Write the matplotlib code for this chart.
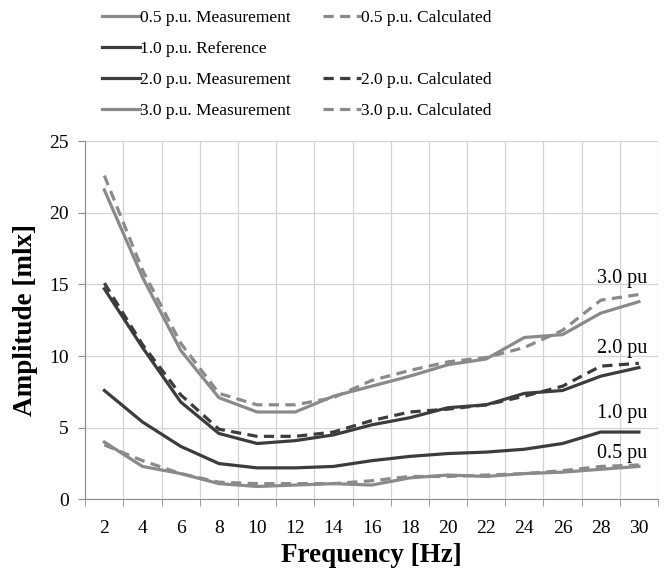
import matplotlib.pyplot as plt
import numpy as np
from matplotlib.lines import Line2D

plt.rcParams['font.family'] = ['Liberation Serif', 'DejaVu Serif']

freq = [2, 4, 6, 8, 10, 12, 14, 16, 18, 20, 22, 24, 26, 28, 30]

meas_05 = [4.0, 2.3, 1.8, 1.1, 0.9, 1.0, 1.1, 1.0, 1.5, 1.7, 1.6, 1.8, 1.9, 2.1, 2.3]
calc_05 = [3.8, 2.7, 1.8, 1.2, 1.1, 1.1, 1.1, 1.3, 1.6, 1.6, 1.7, 1.8, 2.0, 2.3, 2.4]
ref_10 = [7.6, 5.4, 3.7, 2.5, 2.2, 2.2, 2.3, 2.7, 3.0, 3.2, 3.3, 3.5, 3.9, 4.7, 4.7]
meas_20 = [14.7, 10.6, 6.8, 4.6, 3.9, 4.1, 4.5, 5.2, 5.7, 6.4, 6.6, 7.4, 7.6, 8.6, 9.2]
calc_20 = [15.1, 10.8, 7.3, 4.9, 4.4, 4.4, 4.7, 5.5, 6.1, 6.3, 6.6, 7.2, 7.9, 9.3, 9.5]
meas_30 = [21.6, 15.5, 10.4, 7.1, 6.1, 6.1, 7.2, 7.9, 8.6, 9.4, 9.8, 11.3, 11.5, 13.0, 13.8]
calc_30 = [22.6, 16.0, 10.9, 7.4, 6.6, 6.6, 7.1, 8.3, 9.0, 9.6, 9.9, 10.6, 11.8, 13.9, 14.3]

end_labels = ['3.0 pu', '2.0 pu', '1.0 pu', '0.5 pu']
end_label_y = [15.4, 10.5, 6.0, 3.2]

light = '#8a8a8a'
dark = '#3c3c3c'
lw = 2.3
dash = (0, (3.2, 2.0))

fig = plt.figure(figsize=(6.66, 5.74), dpi=100)
ax = fig.add_axes([0.128, 0.130, 0.860, 0.624])

x = np.arange(len(freq))

ax.plot(x, meas_05, color=light, lw=lw, label='0.5 p.u. Measurement')
ax.plot(x, ref_10, color=dark, lw=lw, label='1.0 p.u. Reference')
ax.plot(x, meas_20, color=dark, lw=lw, label='2.0 p.u. Measurement')
ax.plot(x, meas_30, color=light, lw=lw, label='3.0 p.u. Measurement')
ax.plot(x, calc_05, color=light, lw=lw, ls=dash, label='0.5 p.u. Calculated')
ax.plot(x, calc_20, color=dark, lw=lw, ls=dash, label='2.0 p.u. Calculated')
ax.plot(x, calc_30, color=light, lw=lw, ls=dash, label='3.0 p.u. Calculated')

for lab, yy in zip(end_labels, end_label_y):
    ax.text(13.55, yy, lab, ha='center', va='center', fontsize=14.5, color='black')

ax.set_xlim(-0.5, len(freq) - 0.5)
ax.set_ylim(0, 25)
ax.set_yticks(np.arange(0, 26, 5))
ax.set_xticks(x)
ax.set_xticklabels([str(f) for f in freq])
ax.set_xticks(np.arange(-0.5, len(freq), 1.0), minor=True)

ax.grid(True, axis='y', color='#d4d4d4', lw=0.9)
ax.grid(True, axis='x', which='minor', color='#d4d4d4', lw=0.9)
ax.set_axisbelow(True)

ax.tick_params(axis='x', which='major', length=0, labelsize=14, pad=15)
ax.tick_params(axis='x', which='minor', length=5, color='#8c8c8c', direction='out')
ax.tick_params(axis='y', length=5, color='#8c8c8c', labelsize=14, pad=7)

for side in ['top', 'right']:
    ax.spines[side].set_visible(False)
ax.spines['left'].set_color('#8c8c8c')
ax.spines['bottom'].set_color('#8c8c8c')

ax.set_xlabel('Frequency [Hz]', fontsize=19.5, fontweight='bold', labelpad=4)
ax.set_ylabel('Amplitude [mlx]', fontsize=19.5, fontweight='bold', labelpad=8)

# two-column legend with an empty slot next to the reference line
handles, labels = ax.get_legend_handles_labels()
blank = Line2D([], [], color='none')
order_h = handles[:4] + [handles[4], blank, handles[5], handles[6]]
order_l = labels[:4] + [labels[4], ' ', labels[5], labels[6]]
fig.legend(order_h, order_l, ncol=2, loc='upper left', bbox_to_anchor=(0.13, 1.01),
           frameon=False, fontsize=12.5, handlelength=2.2, handletextpad=0.0,
           columnspacing=1.8, labelspacing=0.85)

fig.savefig('out.png', dpi=100)
